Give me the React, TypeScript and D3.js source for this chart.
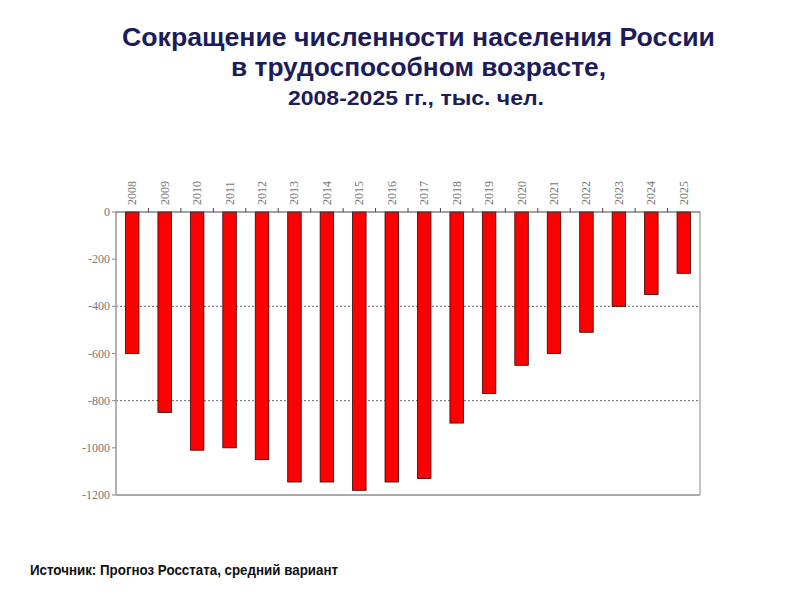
import React from "react";
import * as d3 from "d3";

const years = ["2008","2009","2010","2011","2012","2013","2014","2015","2016","2017","2018","2019","2020","2021","2022","2023","2024","2025"];
const values = [-600,-850,-1010,-1000,-1050,-1145,-1145,-1180,-1145,-1130,-895,-770,-650,-600,-510,-400,-350,-260];
const yTicks = [0,-200,-400,-600,-800,-1000,-1200];
const gridValues = [-400,-800];

const W = 800, H = 600;
const left = 116, right = 700, top = 212, bottom = 495;

export default function App() {
  const x = d3.scaleBand<string>().domain(years).range([left, right]).paddingInner(0).paddingOuter(0);
  const y = d3.scaleLinear().domain([0, -1200]).range([top, bottom]);
  const bw = 13.5;
  const serif = "'Liberation Serif', 'DejaVu Serif', serif";
  const sans = "'Liberation Sans', Arial, sans-serif";
  return (
    <svg width={W} height={H} style={{ position: "absolute", left: 0, top: 0, background: "#fff" }}>
      <rect width={W} height={H} fill="#fff" />
      <g fontFamily={sans} fontWeight="bold" fill="#1c1c5a">
        <text x={122} y={46} fontSize={25} textLength={593} lengthAdjust="spacingAndGlyphs">Сокращение численности населения России</text>
        <text x={231} y={76} fontSize={25} textLength={375} lengthAdjust="spacingAndGlyphs">в трудоспособном возрасте,</text>
        <text x={288} y={105} fontSize={20} textLength={256} lengthAdjust="spacingAndGlyphs">2008-2025 гг., тыс. чел.</text>
      </g>
      {gridValues.map(v => (
        <line key={v} x1={left} x2={right} y1={y(v)} y2={y(v)} stroke="#666" strokeWidth={1} strokeDasharray="2,2" />
      ))}
      <line x1={left} x2={left} y1={top} y2={bottom} stroke="#999" strokeWidth={1.5} />
      <line x1={right} x2={right} y1={top} y2={bottom} stroke="#888" strokeWidth={1} />
      <line x1={left} x2={right} y1={bottom} y2={bottom} stroke="#aaa" strokeWidth={2} />
      {years.map((yr, i) => (
        <rect key={yr} x={(x(yr) as number) + x.bandwidth() / 2 - bw / 2} y={y(0)} width={bw}
          height={y(values[i]) - y(0)} fill="#ff0000" stroke="#3a0000" strokeWidth={0.8} />
      ))}
      <line x1={left} x2={right} y1={top} y2={top} stroke="#444" strokeWidth={1} />
      {years.map((yr, i) => i > 0 ? (
        <line key={"t" + yr} x1={x(yr) as number} x2={x(yr) as number} y1={top} y2={top - 4} stroke="#444" />
      ) : null)}
      {yTicks.map(v => (
        <g key={"y" + v}>
          <line x1={left - 4} x2={left} y1={y(v)} y2={y(v)} stroke="#888" />
          <text x={left - 6} y={y(v) + 4} fontSize={12} fontFamily={serif} fill="#777" textAnchor="end">{v}</text>
        </g>
      ))}
      {years.map(yr => {
        const cx = (x(yr) as number) + x.bandwidth() / 2;
        return (
          <text key={"l" + yr} transform={`translate(${cx + 4},${205}) rotate(-90)`} fontSize={12}
            fontFamily={serif} fill="#777" textAnchor="start">{yr}</text>
        );
      })}
      <text x={30} y={575} fontFamily={sans} fontWeight="bold" fontSize={14} fill="#111" textLength={308} lengthAdjust="spacingAndGlyphs">Источник: Прогноз Росстата, средний вариант</text>
    </svg>
  );
}
